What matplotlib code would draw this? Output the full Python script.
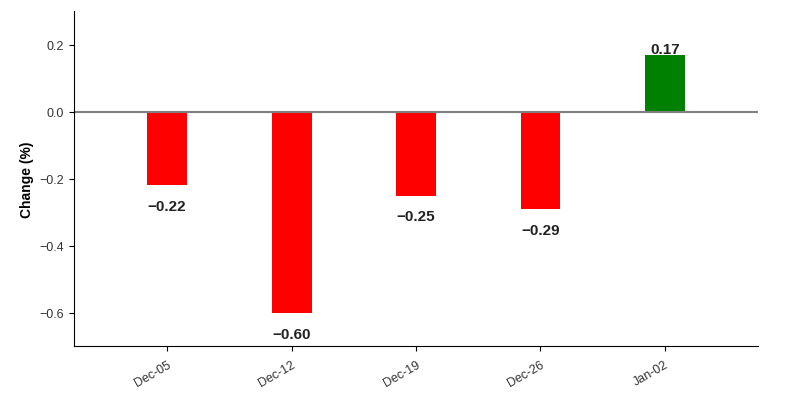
import matplotlib.pyplot as plt

plt.rcParams['font.family'] = ['Liberation Sans', 'DejaVu Sans']

weeks = ['Dec-05', 'Dec-12', 'Dec-19', 'Dec-26', 'Jan-02']
change = [-0.22, -0.60, -0.25, -0.29, 0.17]

colors = ['green' if v >= 0 else 'red' for v in change]
x = list(range(len(weeks)))

fig, ax = plt.subplots(figsize=(7.94, 4.10), dpi=100)
fig.subplots_adjust(left=0.093, right=0.955, top=0.97, bottom=0.153)

ax.bar(x, change, width=0.32, color=colors)
ax.axhline(0, color='gray', linewidth=1.5)

# value labels under negative bars, over positive ones
for xi, v in zip(x, change):
    if v >= 0:
        ax.annotate(f'{v:.2f}', (xi, v), xytext=(0, -1), textcoords='offset points',
                    ha='center', va='bottom', fontsize=11, fontweight='bold', color='#222222')
    else:
        ax.annotate(f'\u2212{abs(v):.2f}', (xi, v), xytext=(0, -10), textcoords='offset points',
                    ha='center', va='top', fontsize=11, fontweight='bold', color='#222222')

ax.set_xlim(-0.75, 4.75)
ax.set_ylim(-0.7, 0.3)
ax.set_yticks([-0.6, -0.4, -0.2, 0.0, 0.2])
ax.set_xticks(x)
ax.set_xticklabels(weeks, rotation=30, ha='right', rotation_mode='anchor')
ax.tick_params(labelsize=9, labelcolor='#333333')
ax.tick_params(axis='x', pad=5)
ax.set_ylabel('Change (%)', fontsize=10, fontweight='bold')

ax.spines['top'].set_visible(False)
ax.spines['right'].set_visible(False)

plt.savefig('out.png', dpi=100)
